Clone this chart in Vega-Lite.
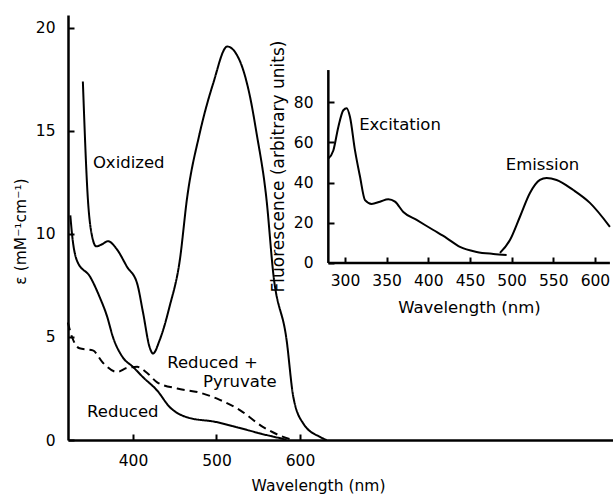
{
  "$schema": "https://vega.github.io/schema/vega-lite/v6.json",
  "width": 545,
  "height": 425,
  "autosize": "none",
  "padding": {"left": 68, "top": 15, "right": 0, "bottom": 54},
  "background": "white",
  "config": {
    "view": {"stroke": null},
    "font": "DejaVu Sans",
    "axis": {
      "grid": false,
      "domainColor": "black",
      "domainWidth": 2.5,
      "tickColor": "black",
      "tickWidth": 2,
      "labelColor": "black",
      "titleColor": "black",
      "labelFont": "DejaVu Sans",
      "titleFont": "DejaVu Sans",
      "labelFontSize": 15.5,
      "titleFontSize": 15.5,
      "titleFontWeight": "normal"
    },
    "text": {"font": "DejaVu Sans", "fontSize": 16.5, "color": "black"}
  },
  "datasets": {
    "main": [
      {"series": "Oxidized", "wl": 340, "eps": 17.4},
      {"series": "Oxidized", "wl": 346, "eps": 11.7},
      {"series": "Oxidized", "wl": 351, "eps": 9.9},
      {"series": "Oxidized", "wl": 356, "eps": 9.4},
      {"series": "Oxidized", "wl": 363, "eps": 9.5},
      {"series": "Oxidized", "wl": 370, "eps": 9.65},
      {"series": "Oxidized", "wl": 380, "eps": 9.3},
      {"series": "Oxidized", "wl": 393, "eps": 8.4},
      {"series": "Oxidized", "wl": 405, "eps": 7.6},
      {"series": "Oxidized", "wl": 412, "eps": 6.2},
      {"series": "Oxidized", "wl": 420, "eps": 4.5},
      {"series": "Oxidized", "wl": 424, "eps": 4.2},
      {"series": "Oxidized", "wl": 432, "eps": 4.85},
      {"series": "Oxidized", "wl": 444, "eps": 6.5},
      {"series": "Oxidized", "wl": 456, "eps": 8.7},
      {"series": "Oxidized", "wl": 465, "eps": 11.8},
      {"series": "Oxidized", "wl": 480, "eps": 14.9},
      {"series": "Oxidized", "wl": 496, "eps": 17.3},
      {"series": "Oxidized", "wl": 513, "eps": 19.1},
      {"series": "Oxidized", "wl": 528, "eps": 18.4},
      {"series": "Oxidized", "wl": 540, "eps": 16.7},
      {"series": "Oxidized", "wl": 548, "eps": 14.9},
      {"series": "Oxidized", "wl": 560, "eps": 11.65},
      {"series": "Oxidized", "wl": 568, "eps": 8.1},
      {"series": "Oxidized", "wl": 584, "eps": 4.85},
      {"series": "Oxidized", "wl": 592, "eps": 2.1},
      {"series": "Oxidized", "wl": 604, "eps": 0.8},
      {"series": "Oxidized", "wl": 624, "eps": 0.15},
      {"series": "Oxidized", "wl": 632, "eps": 0},
      {"series": "Reduced", "wl": 325, "eps": 10.9},
      {"series": "Reduced", "wl": 327, "eps": 10.0},
      {"series": "Reduced", "wl": 333, "eps": 8.7},
      {"series": "Reduced", "wl": 349, "eps": 7.9},
      {"series": "Reduced", "wl": 360, "eps": 6.95},
      {"series": "Reduced", "wl": 369, "eps": 6.0},
      {"series": "Reduced", "wl": 376, "eps": 5.0},
      {"series": "Reduced", "wl": 388, "eps": 4.0},
      {"series": "Reduced", "wl": 400, "eps": 3.55},
      {"series": "Reduced", "wl": 412, "eps": 3.05},
      {"series": "Reduced", "wl": 429, "eps": 2.4},
      {"series": "Reduced", "wl": 444, "eps": 1.6},
      {"series": "Reduced", "wl": 465, "eps": 1.1},
      {"series": "Reduced", "wl": 500, "eps": 0.87},
      {"series": "Reduced", "wl": 528, "eps": 0.58},
      {"series": "Reduced", "wl": 560, "eps": 0.24},
      {"series": "Reduced", "wl": 584, "eps": 0.02},
      {"series": "Pyruvate", "wl": 322, "eps": 5.7},
      {"series": "Pyruvate", "wl": 327, "eps": 5.0},
      {"series": "Pyruvate", "wl": 336, "eps": 4.45},
      {"series": "Pyruvate", "wl": 352, "eps": 4.35},
      {"series": "Pyruvate", "wl": 364, "eps": 3.75},
      {"series": "Pyruvate", "wl": 381, "eps": 3.3},
      {"series": "Pyruvate", "wl": 393, "eps": 3.5},
      {"series": "Pyruvate", "wl": 405, "eps": 3.55},
      {"series": "Pyruvate", "wl": 417, "eps": 3.25},
      {"series": "Pyruvate", "wl": 429, "eps": 2.8},
      {"series": "Pyruvate", "wl": 453, "eps": 2.5},
      {"series": "Pyruvate", "wl": 480, "eps": 2.3},
      {"series": "Pyruvate", "wl": 504, "eps": 1.95},
      {"series": "Pyruvate", "wl": 528, "eps": 1.45},
      {"series": "Pyruvate", "wl": 556, "eps": 0.63},
      {"series": "Pyruvate", "wl": 580, "eps": 0.15},
      {"series": "Pyruvate", "wl": 592, "eps": 0}
    ],
    "mainLabels": [
      {"label": "Oxidized", "wl": 352, "eps": 13.45},
      {"label": "Reduced +", "wl": 441, "eps": 3.74},
      {"label": "Pyruvate", "wl": 484, "eps": 2.82},
      {"label": "Reduced", "wl": 345, "eps": 1.36}
    ],
    "inset": [
      {"series": "Excitation", "wl": 280, "f": 52},
      {"series": "Excitation", "wl": 286, "f": 56},
      {"series": "Excitation", "wl": 292, "f": 67.7},
      {"series": "Excitation", "wl": 298, "f": 76},
      {"series": "Excitation", "wl": 302, "f": 77},
      {"series": "Excitation", "wl": 306, "f": 72.6},
      {"series": "Excitation", "wl": 312, "f": 56},
      {"series": "Excitation", "wl": 318, "f": 43},
      {"series": "Excitation", "wl": 324, "f": 31.3},
      {"series": "Excitation", "wl": 332, "f": 29.4},
      {"series": "Excitation", "wl": 342, "f": 30.5},
      {"series": "Excitation", "wl": 352, "f": 31.7},
      {"series": "Excitation", "wl": 360, "f": 30.5},
      {"series": "Excitation", "wl": 370, "f": 25.4},
      {"series": "Excitation", "wl": 386, "f": 21.4},
      {"series": "Excitation", "wl": 406, "f": 16.4},
      {"series": "Excitation", "wl": 422, "f": 12.4},
      {"series": "Excitation", "wl": 438, "f": 8.0},
      {"series": "Excitation", "wl": 458, "f": 5.5},
      {"series": "Excitation", "wl": 478, "f": 4.5},
      {"series": "Excitation", "wl": 494, "f": 4.0},
      {"series": "Emission", "wl": 486, "f": 5.0},
      {"series": "Emission", "wl": 498, "f": 11.4},
      {"series": "Emission", "wl": 510, "f": 23},
      {"series": "Emission", "wl": 522, "f": 34.8},
      {"series": "Emission", "wl": 534, "f": 41.3},
      {"series": "Emission", "wl": 542, "f": 42.3},
      {"series": "Emission", "wl": 554, "f": 41.3},
      {"series": "Emission", "wl": 574, "f": 36.3},
      {"series": "Emission", "wl": 594, "f": 29.9},
      {"series": "Emission", "wl": 618, "f": 18}
    ],
    "insetLabels": [
      {"label": "Excitation", "wl": 317, "f": 68.7},
      {"label": "Emission", "wl": 493, "f": 48.8}
    ],
    "insetFrame": [
      {"wl": 280, "wl2": 618, "f": 0, "f2": 0},
      {"wl": 280, "wl2": 280, "f": 0, "f2": 96}
    ]
  },
  "layer": [
    {
      "layer": [
        {
          "data": {"name": "main"},
          "mark": {"type": "line", "interpolate": "monotone", "strokeWidth": 2, "color": "black"},
          "encoding": {
            "x": {
              "field": "wl", "type": "quantitative",
              "scale": {"domain": [322.2, 974.9], "nice": false, "zero": false},
              "axis": {
                "orient": "bottom",
                "values": [400, 500, 600],
                "tickSize": -6,
                "labelPadding": 19,
                "title": "Wavelength (nm)",
                "titleX": 250,
                "titlePadding": 10
              }
            },
            "y": {
              "field": "eps", "type": "quantitative",
              "scale": {"domain": [0, 20.63], "nice": false, "zero": false},
              "axis": {
                "orient": "left",
                "values": [0, 5, 10, 15, 20],
                "tickSize": -6,
                "labelPadding": 19,
                "title": "ε (mM⁻¹cm⁻¹)",
                "titleY": 216,
                "titlePadding": 7
              }
            },
            "detail": {"field": "series"},
            "strokeDash": {
              "field": "series", "type": "nominal",
              "scale": {"domain": ["Oxidized", "Reduced", "Pyruvate"], "range": [[1, 0], [1, 0], [8, 5]]},
              "legend": null
            }
          }
        },
        {
          "data": {"name": "mainLabels"},
          "mark": {"type": "text", "align": "left", "baseline": "middle"},
          "encoding": {
            "x": {"field": "wl", "type": "quantitative", "scale": {"domain": [322.2, 974.9], "nice": false, "zero": false}},
            "y": {"field": "eps", "type": "quantitative", "scale": {"domain": [0, 20.63], "nice": false, "zero": false}},
            "text": {"field": "label"}
          }
        }
      ]
    },
    {
      "layer": [
        {
          "data": {"name": "inset"},
          "mark": {"type": "line", "interpolate": "monotone", "strokeWidth": 2, "color": "black"},
          "encoding": {
            "x": {
              "field": "wl", "type": "quantitative",
              "scale": {"domain": [-32.5, 621.7], "nice": false, "zero": false},
              "axis": {
                "orient": "bottom",
                "offset": -177,
                "domain": false,
                "values": [300, 350, 400, 450, 500, 550, 600],
                "tickSize": -6,
                "labelPadding": 16,
                "title": "Wavelength (nm)",
                "titleFontSize": 16.5,
                "titleX": 401,
                "titlePadding": 11
              }
            },
            "y": {
              "field": "f", "type": "quantitative",
              "scale": {"domain": [-88.1, 123.4], "nice": false, "zero": false},
              "axis": {
                "orient": "left",
                "offset": -260,
                "domain": false,
                "values": [0, 20, 40, 60, 80],
                "tickSize": -6,
                "labelPadding": 21,
                "title": "Fluorescence (arbitrary units)",
                "titleFontSize": 17,
                "titleY": 151,
                "titlePadding": 6
              }
            },
            "detail": {"field": "series"}
          }
        },
        {
          "data": {"name": "insetFrame"},
          "mark": {"type": "rule", "strokeWidth": 2.5, "color": "black"},
          "encoding": {
            "x": {"field": "wl", "type": "quantitative", "scale": {"domain": [-32.5, 621.7], "nice": false, "zero": false}},
            "x2": {"field": "wl2"},
            "y": {"field": "f", "type": "quantitative", "scale": {"domain": [-88.1, 123.4], "nice": false, "zero": false}},
            "y2": {"field": "f2"}
          }
        },
        {
          "data": {"name": "insetLabels"},
          "mark": {"type": "text", "align": "left", "baseline": "middle"},
          "encoding": {
            "x": {"field": "wl", "type": "quantitative", "scale": {"domain": [-32.5, 621.7], "nice": false, "zero": false}},
            "y": {"field": "f", "type": "quantitative", "scale": {"domain": [-88.1, 123.4], "nice": false, "zero": false}},
            "text": {"field": "label"}
          }
        }
      ]
    }
  ],
  "resolve": {
    "scale": {"x": "independent", "y": "independent"},
    "axis": {"x": "independent", "y": "independent"}
  }
}
